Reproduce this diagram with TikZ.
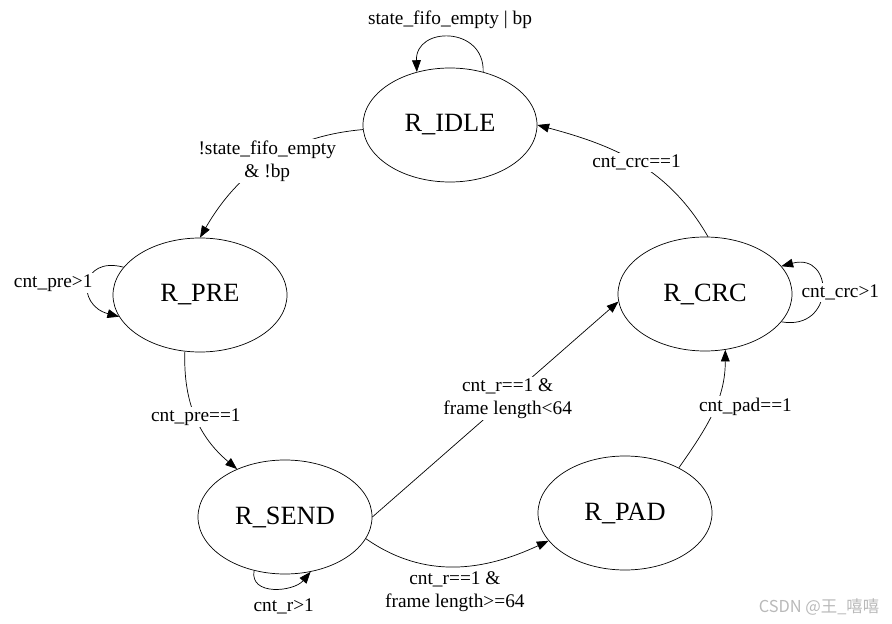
\documentclass[tikz,border=0pt]{standalone}
\usepackage{fontspec}
\setmainfont{Liberation Serif}
\newfontfamily\cjk{Noto Sans CJK SC}
\usetikzlibrary{shapes.geometric,arrows.meta}

\begin{document}
\begin{tikzpicture}[x=0.03cm,y=0.03cm,line width=0.6pt,
	>={Triangle[length=10pt,width=7.5pt]},
	state/.style={draw,ellipse,inner sep=0pt,minimum width=5.22cm,minimum height=3.42cm,
		font=\fontsize{22.5}{27}\selectfont},
	lbl/.style={font=\fontsize{16.5}{19.6}\selectfont,align=center,inner sep=1.5pt},
	cut/.style={lbl,fill=white}]

	\useasboundingbox (0,0) rectangle (892,-624);

	\node[state] (idle) at (450,-125) {R\_IDLE};
	\node[state] (pre)  at (200,-295) {R\_PRE};
	\node[state] (crc)  at (705,-294) {R\_CRC};
	\node[state] (send) at (285,-517) {R\_SEND};
	\node[state] (pad)  at (625,-513) {R\_PAD};

	\draw[->] (idle.58) .. controls +(88:46) and +(92:46) .. node[lbl,above=6pt] {state\_fifo\_empty | bp} (idle.122);
	\draw[->] (idle.183) to[out=185,in=60] node[cut] {!state\_fifo\_empty\\\& !bp} (pre.north);

	\draw[->] (pre.160) .. controls +(165:45) and +(165:45) .. node[cut,anchor=east,xshift=5pt] {cnt\_pre>1} (pre.195);
	\draw[->] (pre.255) to[out=268,in=140] node[cut] {cnt\_pre==1} (send.135);

	\draw[->] (send.240) .. controls +(260:26) and +(230:26) .. node[lbl,below=7pt,xshift=8pt] {cnt\_r>1} (send.295);
	\draw[->] (send.345) to[out=-35,in=205] node[lbl,below=3pt] {cnt\_r==1 \&\\frame length>=64} (pad.200);
	\draw[->] (send.east) -- node[cut,pos=.55] {cnt\_r==1 \&\\frame length<64} (crc.185);

	\draw[->] (pad.40) to[out=55,in=270] node[cut,pos=.55,xshift=26pt] {cnt\_pad==1} (crc.290);

	\draw[->] (crc.340) .. controls +(-10:55) and +(15:55) .. node[cut,xshift=16pt] {cnt\_crc>1} (crc.20);
	\draw[->] (crc.87) to[out=120,in=345] node[cut] {cnt\_crc==1} (idle.east);

	\node[font=\cjk\fontsize{14}{16}\selectfont,text=gray!55] (mark) at (819,-607) {CSDN @王\_嘻嘻};
\end{tikzpicture}
\end{document}
